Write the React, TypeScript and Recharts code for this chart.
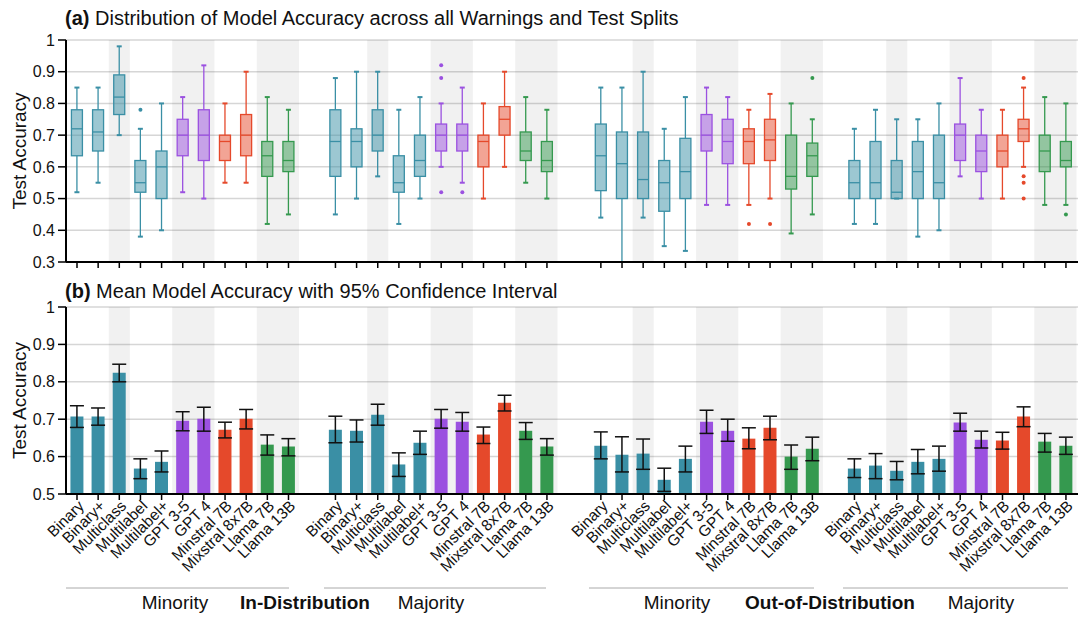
import React from "react";
import {
  ComposedChart,
  Bar,
  Scatter,
  XAxis,
  YAxis,
  CartesianGrid,
  ReferenceArea,
  ErrorBar,
  Cell,
} from "recharts";

const models = [
  "Binary",
  "Binary+",
  "Multiclass",
  "Multilabel",
  "Multilabel+",
  "GPT 3-5",
  "GPT 4",
  "Minstral 7B",
  "Mixstral 8x7B",
  "Llama 7B",
  "Llama 13B",
];

const TEAL = "#3a8fa5";
const PURPLE = "#9b51e0";
const RED = "#e5492b";
const GREEN = "#35994f";
const modelColors = [TEAL, TEAL, TEAL, TEAL, TEAL, PURPLE, PURPLE, RED, RED, GREEN, GREEN];

// x offset of each split group: ID minority, ID majority, OOD minority, OOD majority
const groupStarts = [0, 12.22, 24.77, 36.76];
// model index ranges that get a grey background band
const bandRanges = [
  [2, 2],
  [5, 6],
  [9, 10],
];

// [min, q1, median, q3, max]
const boxIdMinority = [
  [0.52, 0.635, 0.72, 0.78, 0.85],
  [0.55, 0.65, 0.71, 0.78, 0.85],
  [0.7, 0.765, 0.82, 0.89, 0.98],
  [0.38, 0.52, 0.55, 0.62, 0.72],
  [0.4, 0.5, 0.6, 0.65, 0.8],
  [0.52, 0.635, 0.7, 0.75, 0.82],
  [0.5, 0.62, 0.7, 0.78, 0.92],
  [0.55, 0.62, 0.68, 0.7, 0.8],
  [0.55, 0.635, 0.7, 0.765, 0.9],
  [0.42, 0.57, 0.635, 0.68, 0.82],
  [0.45, 0.585, 0.62, 0.68, 0.78],
];
const boxIdMajority = [
  [0.45, 0.57, 0.68, 0.78, 0.88],
  [0.5, 0.6, 0.68, 0.72, 0.9],
  [0.57, 0.65, 0.7, 0.78, 0.9],
  [0.42, 0.52, 0.55, 0.635, 0.78],
  [0.5, 0.57, 0.62, 0.7, 0.82],
  [0.6, 0.65, 0.7, 0.735, 0.8],
  [0.55, 0.65, 0.7, 0.735, 0.85],
  [0.5, 0.6, 0.68, 0.7, 0.8],
  [0.6, 0.7, 0.75, 0.79, 0.9],
  [0.55, 0.62, 0.65, 0.71, 0.82],
  [0.5, 0.585, 0.62, 0.68, 0.78],
];
const boxOodMinority = [
  [0.44, 0.525, 0.635, 0.735, 0.85],
  [0.28, 0.5, 0.61, 0.71, 0.85],
  [0.44, 0.5, 0.56, 0.71, 0.9],
  [0.35, 0.46, 0.55, 0.62, 0.72],
  [0.335, 0.5, 0.585, 0.69, 0.82],
  [0.48, 0.65, 0.7, 0.765, 0.85],
  [0.48, 0.61, 0.68, 0.75, 0.82],
  [0.48, 0.61, 0.68, 0.72, 0.78],
  [0.5, 0.62, 0.685, 0.75, 0.83],
  [0.39, 0.53, 0.57, 0.7, 0.8],
  [0.45, 0.57, 0.635, 0.675, 0.75],
];
const boxOodMajority = [
  [0.42, 0.5, 0.55, 0.62, 0.72],
  [0.42, 0.5, 0.55, 0.68, 0.78],
  [0.5, 0.5, 0.52, 0.62, 0.75],
  [0.38, 0.5, 0.585, 0.68, 0.75],
  [0.4, 0.5, 0.55, 0.7, 0.8],
  [0.57, 0.62, 0.7, 0.735, 0.88],
  [0.5, 0.585, 0.65, 0.7, 0.78],
  [0.5, 0.6, 0.65, 0.7, 0.78],
  [0.6, 0.68, 0.72, 0.75, 0.85],
  [0.48, 0.585, 0.65, 0.7, 0.82],
  [0.48, 0.6, 0.62, 0.68, 0.8],
];

// [model index, value]
const outIdMinority = [[3, 0.78]];
const outIdMajority = [
  [5, 0.92],
  [5, 0.88],
  [5, 0.52],
  [6, 0.52],
];
const outOodMinority = [
  [7, 0.42],
  [8, 0.42],
  [10, 0.88],
];
const outOodMajority = [
  [8, 0.88],
  [8, 0.57],
  [8, 0.55],
  [8, 0.5],
  [10, 0.45],
];

const meanIdMinority = [0.707, 0.707, 0.824, 0.568, 0.586, 0.696, 0.701, 0.672, 0.701, 0.632, 0.627];
const meanIdMajority = [0.672, 0.669, 0.712, 0.579, 0.637, 0.701, 0.693, 0.659, 0.744, 0.669, 0.627];
const meanOodMinority = [0.629, 0.605, 0.608, 0.538, 0.594, 0.693, 0.669, 0.648, 0.677, 0.6, 0.621];
const meanOodMajority = [0.568, 0.576, 0.562, 0.586, 0.594, 0.691, 0.645, 0.643, 0.707, 0.64, 0.629];

// 95% CI [low, high]
const ciIdMinority = [
  [0.678, 0.736], [0.684, 0.73], [0.8, 0.847], [0.541, 0.594], [0.559, 0.615],
  [0.669, 0.72], [0.668, 0.732], [0.65, 0.692], [0.674, 0.726], [0.604, 0.658], [0.602, 0.648],
];
const ciIdMajority = [
  [0.637, 0.708], [0.639, 0.698], [0.684, 0.74], [0.547, 0.61], [0.606, 0.668],
  [0.676, 0.726], [0.668, 0.718], [0.635, 0.679], [0.722, 0.764], [0.646, 0.691], [0.604, 0.648],
];
const ciOodMinority = [
  [0.594, 0.666], [0.559, 0.653], [0.566, 0.647], [0.507, 0.569], [0.559, 0.628],
  [0.662, 0.724], [0.641, 0.7], [0.621, 0.677], [0.645, 0.708], [0.566, 0.631], [0.589, 0.652],
];
const ciOodMajority = [
  [0.544, 0.594], [0.541, 0.608], [0.538, 0.587], [0.554, 0.619], [0.561, 0.628],
  [0.668, 0.716], [0.623, 0.668], [0.62, 0.665], [0.68, 0.733], [0.612, 0.662], [0.606, 0.652],
];

const yTicksA = [0.3, 0.4, 0.5, 0.6, 0.7, 0.8, 0.9, 1];
const yTicksB = [0.5, 0.6, 0.7, 0.8, 0.9, 1];

const boxGroups = [boxIdMinority, boxIdMajority, boxOodMinority, boxOodMajority];
const outlierGroups = [outIdMinority, outIdMajority, outOodMinority, outOodMajority];
const meanGroups = [meanIdMinority, meanIdMajority, meanOodMinority, meanOodMajority];
const ciGroups = [ciIdMinority, ciIdMajority, ciOodMinority, ciOodMajority];

const positions = groupStarts.flatMap((s) => models.map((_, i) => s + i));
const bands = groupStarts.flatMap((s) => bandRanges.map(([a, b]) => [s + a - 0.5, s + b + 0.5]));
const xDomain = [-0.52, 47.33];

const boxRows = boxGroups.flatMap((g, gi) =>
  g.map((s, i) => ({ pos: groupStarts[gi] + i, whisker: [s[0], s[4]], stats: s, color: modelColors[i] }))
);
const outlierRows = outlierGroups.flatMap((g, gi) =>
  g.map(([i, v]) => ({ pos: groupStarts[gi] + i, value: v, color: modelColors[i] }))
);
const meanRows = meanGroups.flatMap((g, gi) =>
  g.map((m, i) => ({
    pos: groupStarts[gi] + i,
    mean: m,
    err: [m - ciGroups[gi][i][0], ciGroups[gi][i][1] - m],
    color: modelColors[i],
  }))
);

const FONT = "'Liberation Sans', Arial, Helvetica, sans-serif";

function BoxShape(props: any) {
  const { x, y, width, height, payload } = props;
  const [lo, q1, med, q3, hi] = payload.stats;
  const top = Math.min(y, y + height);
  const h = Math.abs(height);
  const k = h / (hi - lo || 1);
  const py = (v: number) => top + (hi - v) * k;
  const cx = x + width / 2;
  const c = payload.color;
  return (
    <g>
      <line x1={cx} x2={cx} y1={py(hi)} y2={py(q3)} stroke={c} strokeWidth={1.3} />
      <line x1={cx} x2={cx} y1={py(q1)} y2={py(lo)} stroke={c} strokeWidth={1.3} />
      <line x1={cx - 2.5} x2={cx + 2.5} y1={py(hi)} y2={py(hi)} stroke={c} strokeWidth={2} />
      <line x1={cx - 2.5} x2={cx + 2.5} y1={py(lo)} y2={py(lo)} stroke={c} strokeWidth={2} />
      <rect
        x={x}
        y={py(q3)}
        width={width}
        height={Math.max(py(q1) - py(q3), 0.5)}
        fill={c}
        fillOpacity={0.5}
        stroke={c}
        strokeWidth={1.3}
      />
      <line x1={x} x2={x + width} y1={py(med)} y2={py(med)} stroke={c} strokeWidth={1.3} />
    </g>
  );
}

function OutlierDot(props: any) {
  const { cx, cy, payload } = props;
  return <circle cx={cx} cy={cy} r={2} fill={payload.color} />;
}

function ModelTick(props: any) {
  const { x, y, payload } = props;
  const i = positions.indexOf(payload.value);
  const ax = x + 4;
  const ay = y + 1;
  return (
    <text
      x={ax}
      y={ay}
      transform={`rotate(-45 ${ax} ${ay})`}
      textAnchor="end"
      dominantBaseline="central"
      fontSize={15.5}
      fontFamily={FONT}
      fill="#111"
    >
      {models[i % models.length]}
    </text>
  );
}

const yLabel = (props: any) => {
  const { viewBox } = props;
  const lx = viewBox.x + 19;
  const ly = viewBox.y + viewBox.height / 2;
  return (
    <text
      x={lx}
      y={ly}
      transform={`rotate(-90 ${lx} ${ly})`}
      textAnchor="middle"
      dominantBaseline="central"
      fontSize={19}
      fontFamily={FONT}
      fill="#111"
    >
      Test Accuracy
    </text>
  );
};

const yTickStyle = { fontSize: 16, fill: "#111", fontFamily: FONT };
const axisLine = { stroke: "#000", strokeWidth: 2 };
const tickLine = { stroke: "#000", strokeWidth: 1.5 };

const groupLines = [
  [66, 289],
  [324, 546],
  [589, 814],
  [843, 1068],
];

export default function App() {
  return (
    <div style={{ position: "absolute", left: 0, top: 0, width: 1078, height: 619, background: "#fff", fontFamily: FONT }}>
      <div style={{ position: "absolute", left: 0, top: 0 }}>
        <ComposedChart width={1078} height={280} data={boxRows} margin={{ top: 40, right: 0, bottom: 0, left: 0 }}>
          {bands.map(([a, b], i) => (
            <ReferenceArea key={i} x1={a} x2={b} fill="#000" fillOpacity={0.055} stroke="none" />
          ))}
          <CartesianGrid vertical={false} stroke="#d6d6d6" strokeWidth={1.5} />
          <XAxis
            type="number"
            dataKey="pos"
            domain={xDomain}
            ticks={positions}
            interval={0}
            allowDataOverflow
            tick={() => <g />}
            tickLine={tickLine}
            axisLine={axisLine}
            tickSize={6}
            height={18}
          />
          <YAxis
            type="number"
            domain={[0.3, 1]}
            ticks={yTicksA}
            interval={0}
            allowDataOverflow
            width={66}
            tick={yTickStyle}
            tickLine={tickLine}
            axisLine={axisLine}
            tickSize={8}
            tickMargin={3}
            label={{ content: yLabel }}
          />
          <Bar dataKey="whisker" barSize={11} shape={BoxShape} isAnimationActive={false} />
          <Scatter data={outlierRows} dataKey="value" shape={OutlierDot} isAnimationActive={false} />
        </ComposedChart>
      </div>
      <div style={{ position: "absolute", left: 0, top: 280 }}>
        <ComposedChart width={1078} height={339} data={meanRows} margin={{ top: 27, right: 0, bottom: 0, left: 0 }}>
          {bands.map(([a, b], i) => (
            <ReferenceArea key={i} x1={a} x2={b} fill="#000" fillOpacity={0.055} stroke="none" />
          ))}
          <CartesianGrid vertical={false} stroke="#d6d6d6" strokeWidth={1.5} />
          <XAxis
            type="number"
            dataKey="pos"
            domain={xDomain}
            ticks={positions}
            interval={0}
            allowDataOverflow
            tick={ModelTick}
            tickLine={tickLine}
            axisLine={axisLine}
            tickSize={6}
            height={125}
          />
          <YAxis
            type="number"
            domain={[0.5, 1]}
            ticks={yTicksB}
            interval={0}
            allowDataOverflow
            width={66}
            tick={yTickStyle}
            tickLine={tickLine}
            axisLine={axisLine}
            tickSize={8}
            tickMargin={3}
            label={{ content: yLabel }}
          />
          <Bar dataKey="mean" barSize={13} isAnimationActive={false}>
            {meanRows.map((r, i) => (
              <Cell key={i} fill={r.color} />
            ))}
            <ErrorBar dataKey="err" width={7} stroke="#111" strokeWidth={1.5} direction="y" />
          </Bar>
        </ComposedChart>
      </div>
      <svg
        width={1078}
        height={619}
        style={{ position: "absolute", left: 0, top: 0, pointerEvents: "none" }}
        fontFamily={FONT}
      >
        <text x={65} y={25} fontSize={20} fill="#111">
          <tspan fontWeight="bold">(a)</tspan> Distribution of Model Accuracy across all Warnings and Test Splits
        </text>
        <text x={65} y={298} fontSize={20} fill="#111">
          <tspan fontWeight="bold">(b)</tspan> Mean Model Accuracy with 95% Confidence Interval
        </text>
        {groupLines.map(([a, b], i) => (
          <line key={i} x1={a} x2={b} y1={588} y2={588} stroke="#aaa" strokeWidth={1} />
        ))}
        <text x={175} y={609} fontSize={19} textAnchor="middle" fill="#111">Minority</text>
        <text x={305} y={609} fontSize={19} textAnchor="middle" fontWeight="bold" fill="#111">In-Distribution</text>
        <text x={431} y={609} fontSize={19} textAnchor="middle" fill="#111">Majority</text>
        <text x={677} y={609} fontSize={19} textAnchor="middle" fill="#111">Minority</text>
        <text x={830} y={609} fontSize={19} textAnchor="middle" fontWeight="bold" fill="#111">Out-of-Distribution</text>
        <text x={981} y={609} fontSize={19} textAnchor="middle" fill="#111">Majority</text>
      </svg>
    </div>
  );
}
